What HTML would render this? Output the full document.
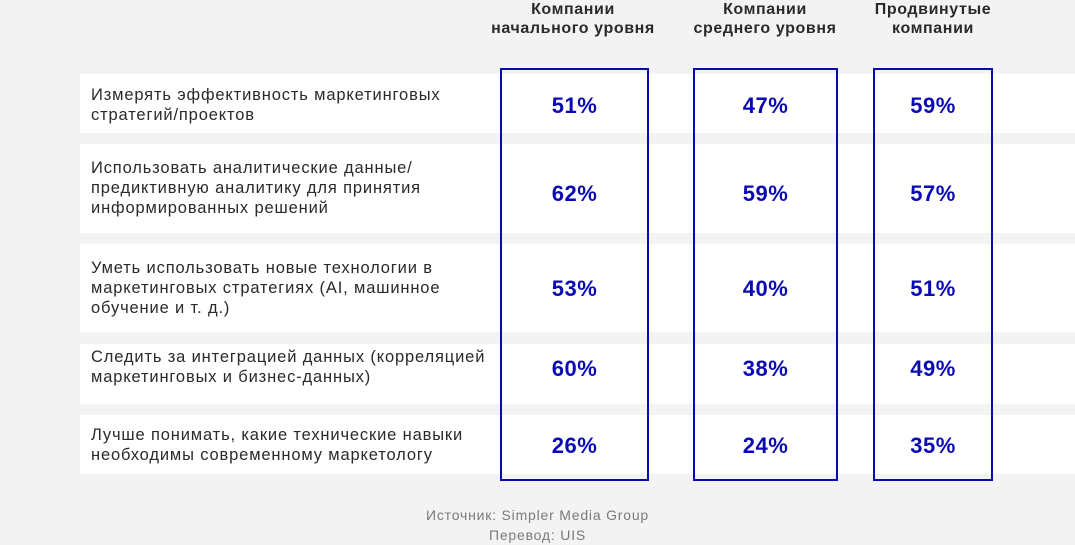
<!DOCTYPE html>
<html><head><meta charset="utf-8"><style>
body{margin:0;width:1075px;height:544px;background:#f3f3f3;position:relative;overflow:hidden;font-family:"Liberation Sans","DejaVu Sans",sans-serif;color:#222}
.row{position:absolute;left:80px;right:0;background:#fff}
.lbl{position:absolute;left:91px;font-size:16.5px;letter-spacing:0.85px;line-height:20px;color:#2a2a2a;white-space:nowrap}
.box{position:absolute;top:68px;height:413px;border:2px solid #0a0ab4;box-sizing:border-box}
.v{position:absolute;font-size:22px;letter-spacing:0.5px;font-weight:bold;color:#0a0ab4;text-align:center;transform:translateY(-50%)}
.h{position:absolute;top:0;font-size:16px;letter-spacing:0.6px;font-weight:bold;line-height:19px;text-align:center;color:#2a2a2a;white-space:nowrap}
.src{position:absolute;left:380px;width:315px;text-align:center;font-size:14px;letter-spacing:0.8px;color:#7a7a7a;line-height:20px}
</style></head><body>
<div class="h" style="left:473px;width:200px">Компании<br>начального уровня</div>
<div class="h" style="left:665px;width:200px">Компании<br>среднего уровня</div>
<div class="h" style="left:833px;width:200px">Продвинутые<br>компании</div>

<div class="row" style="top:74px;height:59px"></div>
<div class="row" style="top:144px;height:89px"></div>
<div class="row" style="top:244px;height:88px"></div>
<div class="row" style="top:344px;height:60px"></div>
<div class="row" style="top:415px;height:59px"></div>

<div class="lbl" style="top:85px">Измерять эффективность маркетинговых<br>стратегий/проектов</div>
<div class="lbl" style="top:158px">Использовать аналитические данные/<br>предиктивную аналитику для принятия<br>информированных решений</div>
<div class="lbl" style="top:258px">Уметь использовать новые технологии в<br>маркетинговых стратегиях (AI, машинное<br>обучение и т. д.)</div>
<div class="lbl" style="top:347px">Следить за интеграцией данных (корреляцией<br>маркетинговых и бизнес-данных)</div>
<div class="lbl" style="top:425px">Лучше понимать, какие технические навыки<br>необходимы современному маркетологу</div>

<div class="box" style="left:500px;width:149px"></div>
<div class="box" style="left:693px;width:145px"></div>
<div class="box" style="left:873px;width:120px"></div>

<div class="v" style="left:500px;width:149px;top:106px">51%</div>
<div class="v" style="left:693px;width:145px;top:106px">47%</div>
<div class="v" style="left:873px;width:120px;top:106px">59%</div>
<div class="v" style="left:500px;width:149px;top:194px">62%</div>
<div class="v" style="left:693px;width:145px;top:194px">59%</div>
<div class="v" style="left:873px;width:120px;top:194px">57%</div>
<div class="v" style="left:500px;width:149px;top:289px">53%</div>
<div class="v" style="left:693px;width:145px;top:289px">40%</div>
<div class="v" style="left:873px;width:120px;top:289px">51%</div>
<div class="v" style="left:500px;width:149px;top:369px">60%</div>
<div class="v" style="left:693px;width:145px;top:369px">38%</div>
<div class="v" style="left:873px;width:120px;top:369px">49%</div>
<div class="v" style="left:500px;width:149px;top:446px">26%</div>
<div class="v" style="left:693px;width:145px;top:446px">24%</div>
<div class="v" style="left:873px;width:120px;top:446px">35%</div>

<div class="src" style="top:505px">Источник: Simpler Media Group<br>Перевод: UIS</div>
</body></html>
